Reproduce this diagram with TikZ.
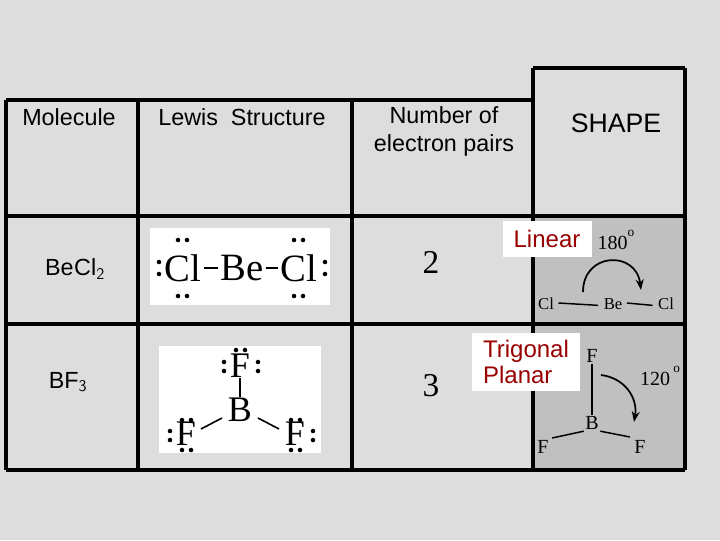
\documentclass[tikz,border=0pt]{standalone}
\usepackage{fontspec}
\usetikzlibrary{arrows.meta}
\setmainfont{Liberation Sans}
\newfontfamily\serif{Liberation Serif}
\definecolor{bg}{HTML}{DDDDDD}
\definecolor{sh}{HTML}{C0C0C0}
\definecolor{dred}{HTML}{990000}
\begin{document}
\begin{tikzpicture}[x=0.75pt,y=-0.75pt,
  grid/.style={line width=3pt},
  lbl/.style={font=\fontsize{17.5}{21}\selectfont},
  big/.style={font=\serif\fontsize{29}{30}\selectfont,inner sep=0pt},
  bigf/.style={font=\serif\fontsize{27}{28}\selectfont,inner sep=0pt},
  sm/.style={font=\serif\fontsize{12.5}{13}\selectfont,inner sep=1pt},
  md/.style={font=\serif\fontsize{15}{16}\selectfont,inner sep=1pt},
  red/.style={font=\fontsize{18}{20}\selectfont,text=dred,fill=white,align=left},
  dot/.style={circle,fill=black,inner sep=0pt,minimum size=3.4pt}]
\fill[bg] (0,0) rectangle (720,540);
\useasboundingbox (0,0) rectangle (720,540);
\fill[sh] (535,218) rectangle (683,470);
% grid
\draw[grid] (6,100) -- (533,100);
\draw[grid] (533,68) -- (685,68);
\draw[grid] (6,216) -- (685,216);
\draw[grid] (6,324) -- (685,324);
\draw[grid] (6,470) -- (685,470);
\foreach \x in {6,138,352} \draw[grid] (\x,100) -- (\x,470);
\draw[grid] (533,68) -- (533,470);
\draw[grid] (685,68) -- (685,470);
% headers
\node[lbl] (h1) at (69,117) {Molecule};
\node[lbl] (h2) at (242,117) {Lewis\ \ Structure};
\node[lbl,align=center] (h3) at (444,131) {Number of\\electron pairs};
\node[font=\fontsize{20}{22}\selectfont] (h4) at (616,123) {SHAPE};
\node[lbl] (m1) at (75,269) {Be\kern0.5ptCl$_{\mathsf 2}$};
\node[lbl] (m2) at (68,382) {BF$_{\mathsf 3}$};
\node[font=\serif\fontsize{25}{27}\selectfont] (n1) at (431,262) {2};
\node[font=\serif\fontsize{25}{27}\selectfont] (n2) at (431,386) {3};
% BeCl2 lewis
\fill[white] (150,228) rectangle (330,305);
\node[big] (cl1) at (183,268) {Cl};
\node[big] (be) at (242,268) {Be};
\node[big] (cl2) at (299,268) {Cl};
\draw[line width=1.2pt] (cl1.east) ++(2,0) -- ([xshift=-1.5pt]be.west);
\draw[line width=1.2pt] (be.east) ++(2,0) -- ([xshift=-1.5pt]cl2.west);
\foreach \p in {(178,240),(187,240),(178,296),(187,296),(294,240),(303,240),(294,296),(303,296),
  (159,262),(159,274),(325,262),(325,274)} \node[dot] at \p {};
% BF3 lewis
\fill[white] (159,346) rectangle (321,453);
\node[bigf] (f1) at (240,366) {F};
\node[bigf] (b) at (240,410) {B};
\node[bigf] (f2) at (186,434) {F};
\node[bigf] (f3) at (295,434) {F};
\draw[line width=1.2pt] (240,378) -- (240,397);
\draw[line width=1.2pt] (201,429) -- (222,418);
\draw[line width=1.2pt] (258,418) -- (279,429);
\foreach \p in {(236,350),(245,350),(224,362),(224,371),(258,362),(258,371),
  (182,420),(191,420),(182,450),(191,450),(170,431),(170,440),
  (291,420),(300,420),(291,450),(300,450),(313,431),(313,440)} \node[dot] at \p {};
% Linear shape
\node[red,inner sep=2pt,minimum width=89*0.75pt,minimum height=36*0.75pt] (lin) at (547,239) {Linear};
\node[sm] (a1) at (546,304) {Cl};
\node[sm] (a2) at (613,304) {Be};
\node[sm] (a3) at (666,304) {Cl};
\draw[line width=1.1pt] (a1.east) ++(3,-1) -- ([shift={(-3pt,-1pt)}]a2.west);
\draw[line width=1.1pt] (a2.east) ++(3,-1) -- ([shift={(-3pt,-1pt)}]a3.west);
\node[md] (d1) at (616,240) {180\raisebox{1.5ex}{\fontsize{10}{10}\selectfont o}};
\coordinate (s1) at (583,292);
\coordinate (e1) at (641,290);
\draw[line width=1.3pt,-{Stealth[length=8pt,width=6pt]}] (s1) .. controls (583,252) and (636,250) .. (e1);
% Trigonal shape
\node[red,inner sep=3pt,minimum width=108*0.75pt,minimum height=58*0.75pt] (tri) at (526,362) {Trigonal\\Planar};
\node[md] (t1) at (592,356) {F};
\node[md] (t2) at (592,423) {B};
\node[md] (t3) at (543,447) {F};
\node[md] (t4) at (640,447) {F};
\draw[line width=1.1pt] (t1.south) -- (t2.north);
\draw[line width=1.1pt] (552,438) -- (t2.south west);
\draw[line width=1.1pt] (t2.south east) -- (630,437);
\node[md] (d2) at (660,376) {120\,\raisebox{1.5ex}{\fontsize{10}{10}\selectfont o}};
\coordinate (s2) at (601,375);
\coordinate (e2) at (634,422);
\draw[line width=1.3pt,-{Stealth[length=8pt,width=6pt]}] (s2) .. controls (625,378) and (638,398) .. (e2);
\end{tikzpicture}
\end{document}
